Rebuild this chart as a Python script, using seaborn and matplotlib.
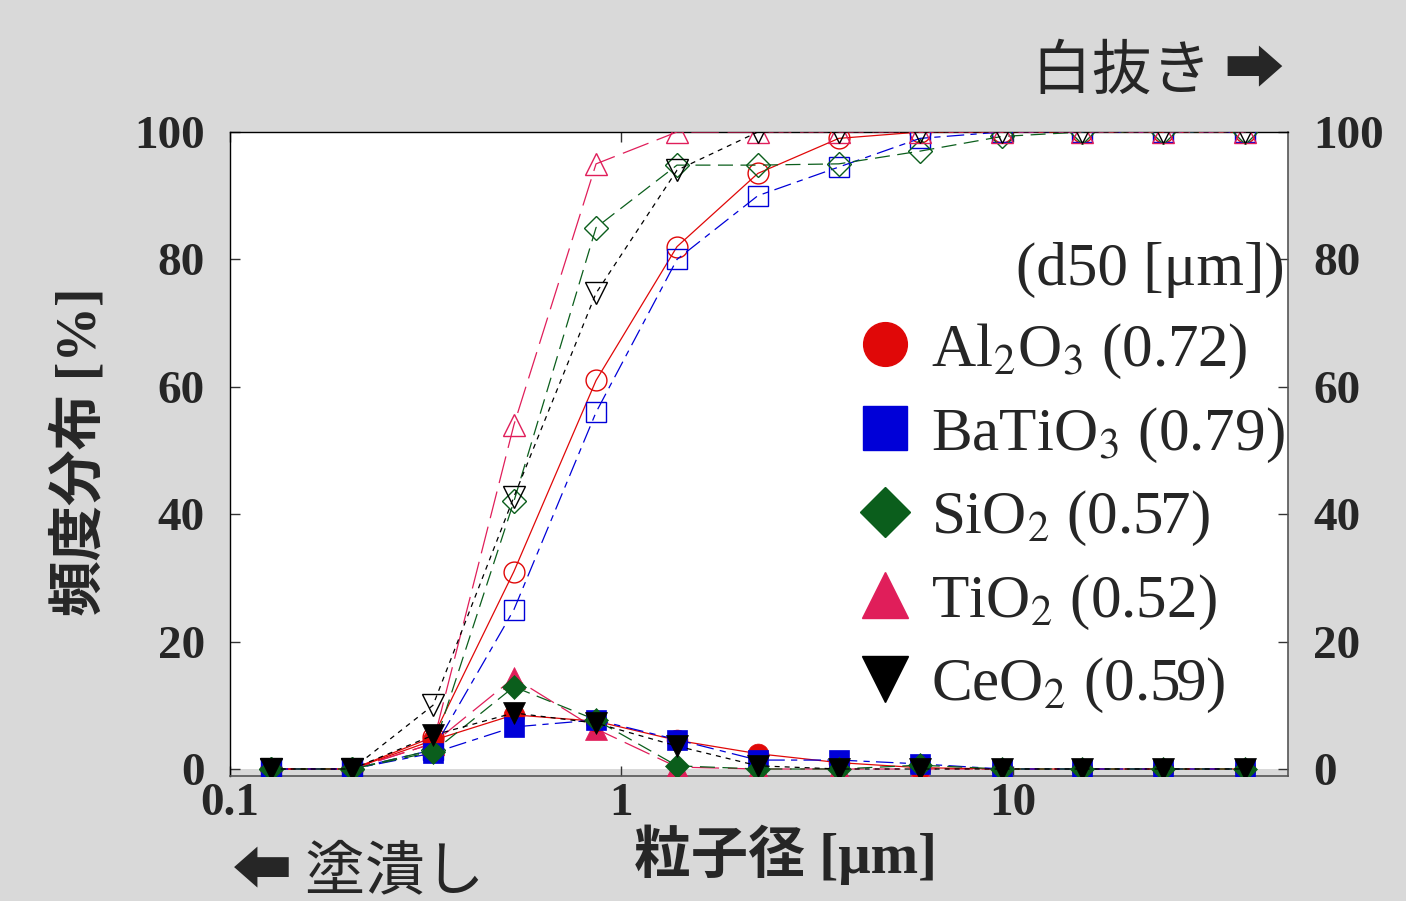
import matplotlib
matplotlib.use("Agg")
import matplotlib.pyplot as plt
from matplotlib.lines import Line2D
from matplotlib.ticker import NullLocator, FixedLocator, FixedFormatter
from matplotlib.font_manager import FontProperties
import pandas as pd
import seaborn as sns

# Particle size classes [um]
size_um = [0.127, 0.205, 0.330, 0.531, 0.861, 1.386, 2.23, 3.59, 5.79, 9.37, 15.0, 24.2, 39.2]

# Material names and median diameters d50 [um]
materials = ["Al2O3", "BaTiO3", "SiO2", "TiO2", "CeO2"]
formulas = ["Al$_2$O$_3$", "BaTiO$_3$", "SiO$_2$", "TiO$_2$", "CeO$_2$"]
d50_um = [0.72, 0.79, 0.57, 0.52, 0.59]

# Cumulative distribution [%] (open markers)
cum_al2o3 = [0, 0, 5.0, 31.0, 61.0, 82.0, 93.5, 99.0, 100, 100, 100, 100, 100]
cum_batio3 = [0, 0, 3.0, 25.0, 56.0, 80.0, 90.0, 94.5, 99.0, 100, 100, 100, 100]
cum_sio2 = [0, 0, 3.0, 42.0, 85.0, 94.8, 94.8, 95.0, 97.0, 99.3, 100, 100, 100]
cum_tio2 = [0, 0, 4.0, 54.0, 95.0, 100, 100, 100, 100, 100, 100, 100, 100]
cum_ceo2 = [0, 0, 10.0, 42.7, 74.7, 94.0, 100, 100, 100, 100, 100, 100, 100]

# Frequency distribution [%] (filled markers)
frq_al2o3 = [0, 0, 4.5, 8.5, 7.5, 4.5, 2.4, 1.0, 0.2, 0, 0, 0, 0]
frq_batio3 = [0, 0, 2.5, 6.6, 7.7, 4.6, 1.4, 1.4, 0.8, 0, 0, 0, 0]
frq_sio2 = [0, 0, 2.7, 12.9, 7.7, 0.5, 0, 0, 0.6, 0, 0, 0, 0]
frq_tio2 = [0, 0, 4.0, 14.3, 6.3, 0.3, 0, 0, 0, 0, 0, 0, 0]
frq_ceo2 = [0, 0, 5.3, 8.8, 7.2, 3.6, 0.5, 0, 0, 0, 0, 0, 0]

cumulative = dict(zip(materials, [cum_al2o3, cum_batio3, cum_sio2, cum_tio2, cum_ceo2]))
frequency = dict(zip(materials, [frq_al2o3, frq_batio3, frq_sio2, frq_tio2, frq_ceo2]))

colors = {"Al2O3": "#e00808", "BaTiO3": "#0000d8", "SiO2": "#0b5e1c",
          "TiO2": "#e01e5a", "CeO2": "#000000"}
markers = {"Al2O3": "o", "BaTiO3": "s", "SiO2": "D", "TiO2": "^", "CeO2": "v"}
msizes = {"Al2O3": 15, "BaTiO3": 15, "SiO2": 12, "TiO2": 16, "CeO2": 16}
linestyles = {"Al2O3": "-", "BaTiO3": (0, (14, 5, 5, 5)), "SiO2": (0, (12, 6)),
              "TiO2": (0, (22, 7)), "CeO2": (0, (4, 4))}

rows = []
for m in materials:
    for x, c, f in zip(size_um, cumulative[m], frequency[m]):
        rows.append({"material": m, "size": x, "kind": "cumulative", "value": c})
        rows.append({"material": m, "size": x, "kind": "frequency", "value": f})
df = pd.DataFrame(rows)

sns.set_style("ticks")
plt.rcParams["mathtext.fontset"] = "stix"
plt.rcParams["font.family"] = ["Liberation Serif", "DejaVu Sans"]

BG = "#d9d9d9"
fig = plt.figure(figsize=(14.06, 9.01), dpi=100, facecolor=BG)
ax = fig.add_axes([230 / 1406, 125 / 901, 1058 / 1406, 644 / 901])
ax.set_facecolor(BG)
ax.axhspan(0, 100, color="white", zorder=0, lw=0)

# Cumulative curves with open markers
for m in materials:
    sub = df[(df.material == m) & (df.kind == "cumulative")]
    sns.lineplot(data=sub, x="size", y="value", ax=ax, errorbar=None,
                 color=colors[m], linestyle=linestyles[m], linewidth=0.9,
                 marker=markers[m], markersize=msizes[m],
                 markerfacecolor="none", markeredgecolor=colors[m],
                 markeredgewidth=1.0, zorder=3)

# Frequency curves with filled markers
for m in ["TiO2", "Al2O3", "BaTiO3", "SiO2", "CeO2"]:
    sub = df[(df.material == m) & (df.kind == "frequency")]
    sns.lineplot(data=sub, x="size", y="value", ax=ax, errorbar=None,
                 color=colors[m], linestyle=linestyles[m], linewidth=0.9,
                 marker=markers[m], markersize=msizes[m],
                 markerfacecolor=colors[m], markeredgecolor=colors[m],
                 markeredgewidth=0.5, zorder=4)

ax.set_xscale("log")
ax.set_xlim(0.1, 50.4)
ax.set_ylim(-1.1, 100)
ax.xaxis.set_major_locator(FixedLocator([0.1, 1, 10]))
ax.xaxis.set_major_formatter(FixedFormatter(["0.1", "1", "10"]))
ax.xaxis.set_minor_locator(NullLocator())
ax.set_yticks([0, 20, 40, 60, 80, 100])

tick_font = FontProperties(family="Liberation Serif", weight="bold", size=34)
ax.tick_params(axis="both", which="major", direction="in", length=7.5, width=1.0,
               top=True, right=True, labelright=True, color="#333333")
ax.tick_params(axis="y", pad=18)
ax.tick_params(axis="x", pad=5)
for lab in ax.get_xticklabels() + ax.get_yticklabels():
    lab.set_fontproperties(tick_font)
for t in ax.yaxis.get_major_ticks():
    t.label2.set_fontproperties(tick_font)

for side in ["top", "left"]:
    ax.spines[side].set_color("black")
    ax.spines[side].set_linewidth(1.0)
for side in ["bottom", "right"]:
    ax.spines[side].set_color("#555555")
    ax.spines[side].set_linewidth(1.2)

label_family = ["Liberation Serif", "Noto Sans CJK JP"]
ax.set_xlabel("粒子径 [μm]", family=label_family, weight="bold", fontsize=41)
ax.set_ylabel("頻度分布 [%]", family=label_family, weight="bold", fontsize=40)
ax.xaxis.label.set_va("center")
ax.yaxis.label.set_va("center")
ax.xaxis.set_label_coords((785 - 230) / 1058, (776 - 855) / 644)
ax.yaxis.set_label_coords((80 - 230) / 1058, (776 - 452) / 644)

# Legend with d50 values
handles = [Line2D([], [], linestyle="none", marker=markers[m], markersize=msizes[m] * 2.1,
                  markerfacecolor=colors[m], markeredgecolor=colors[m])
           for m in materials]
labels = [f"{f} ({d:.2f})" for f, d in zip(formulas, d50_um)]
leg = ax.legend(handles, labels, title="(d50 [μm])", loc="upper right",
                bbox_to_anchor=((1285 - 230) / 1058, (776 - 242) / 644),
                frameon=False, prop=FontProperties(family="Liberation Serif", size=44),
                title_fontproperties=FontProperties(family="Liberation Serif", size=44),
                handlelength=0.72, handletextpad=0.4, labelspacing=0.40,
                borderpad=0, borderaxespad=0, alignment="right")
leg.set_zorder(10)
leg._legend_box.sep = 17

# Annotations for marker fill meaning
note_family = ["Noto Sans CJK JP", "DejaVu Sans"]
fig.text(1032 / 1406, 1 - 72 / 901, "白抜き ➡", family=note_family, fontsize=43,
         ha="left", va="center")
fig.text(232 / 1406, 1 - 873 / 901, "⬅ 塗潰し", family=note_family, fontsize=43,
         ha="left", va="center")

fig.savefig("out.png", dpi=100, facecolor=BG)
